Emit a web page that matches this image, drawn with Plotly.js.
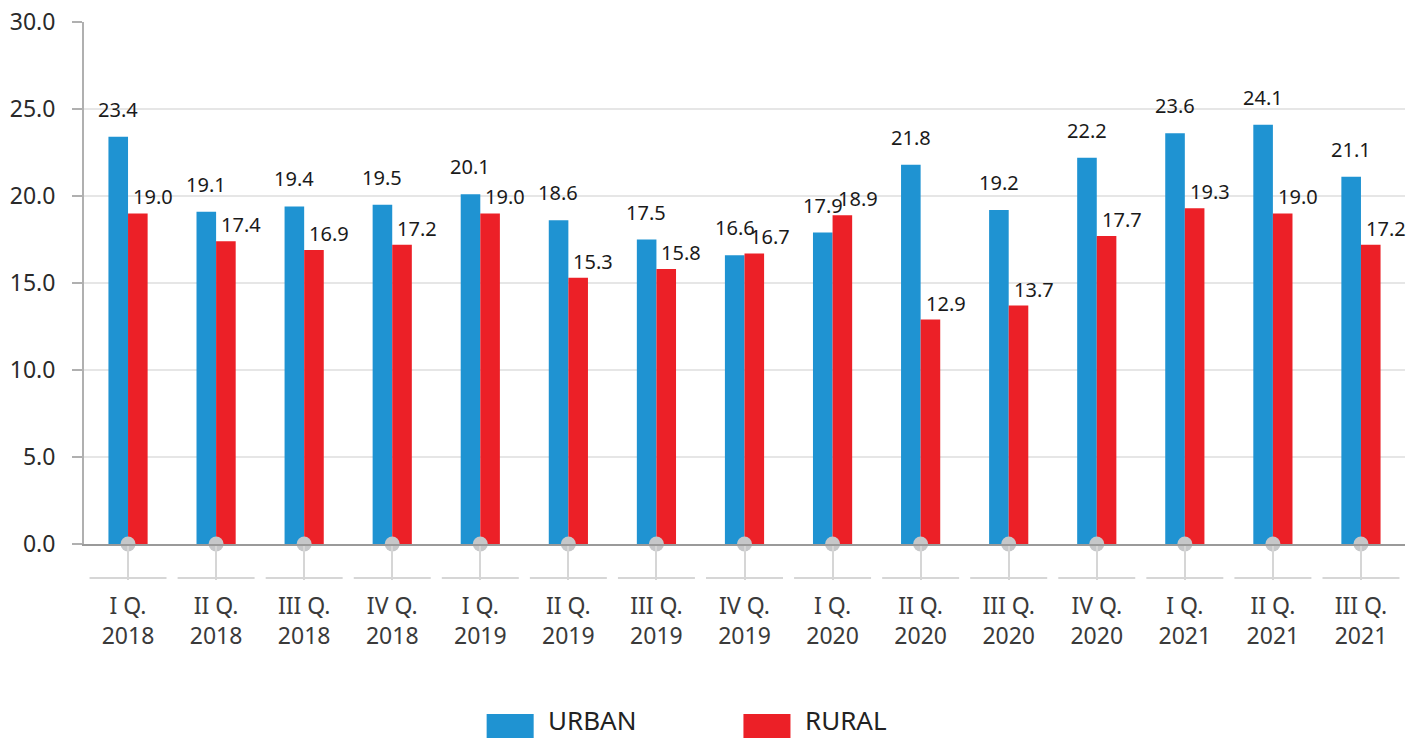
<!DOCTYPE html>
<html>
<head>
<meta charset="utf-8">
<script src="https://cdn.plot.ly/plotly-3.0.1.min.js"></script>
<style>
  html, body { margin: 0; padding: 0; background: #fff; }
  #chart { width: 1416px; height: 738px; }
</style>
</head>
<body>
<div id="chart"></div>
<script>
// quarters on the x axis
var quarters = ["I Q.<br>2018", "II Q.<br>2018", "III Q.<br>2018", "IV Q.<br>2018",
                "I Q.<br>2019", "II Q.<br>2019", "III Q.<br>2019", "IV Q.<br>2019",
                "I Q.<br>2020", "II Q.<br>2020", "III Q.<br>2020", "IV Q.<br>2020",
                "I Q.<br>2021", "II Q.<br>2021", "III Q.<br>2021"];

// values
var urban = [23.4, 19.1, 19.4, 19.5, 20.1, 18.6, 17.5, 16.6, 17.9, 21.8, 19.2, 22.2, 23.6, 24.1, 21.1];
var rural = [19.0, 17.4, 16.9, 17.2, 19.0, 15.3, 15.8, 16.7, 18.9, 12.9, 13.7, 17.7, 19.3, 19.0, 17.2];
var baseline = quarters.map(function() { return 0; });

var blue = "#1f93d2";
var red = "#ec2027";
var fontFam = "Noto Sans, Open Sans, sans-serif";

var traceUrban = {
  x: quarters, y: urban, type: "bar", name: "URBAN",
  marker: {color: blue}, hoverinfo: "skip"
};
var traceRural = {
  x: quarters, y: rural, type: "bar", name: "RURAL",
  marker: {color: red}, hoverinfo: "skip"
};
// grey dots sitting on the baseline
var traceDots = {
  x: quarters, y: baseline, type: "scatter", mode: "markers",
  marker: {color: "#c6c7c9", size: 15}, cliponaxis: false,
  hoverinfo: "skip", showlegend: false
};

// value labels above bars
var annotations = [];
for (var i = 0; i < quarters.length; i++) {
  annotations.push({
    x: quarters[i], y: urban[i], xref: "x", yref: "y",
    text: urban[i].toFixed(1), showarrow: false,
    yanchor: "bottom", xshift: -10, yshift: 12,
    font: {family: fontFam, size: 20, color: "#1a1a1a"}
  });
  annotations.push({
    x: quarters[i], y: rural[i], xref: "x", yref: "y",
    text: rural[i].toFixed(1), showarrow: false,
    yanchor: "bottom", xshift: 25, yshift: 1,
    font: {family: fontFam, size: 20, color: "#1a1a1a"}
  });
}

// short grey rules under each category
var shapes = [];
for (var j = 0; j < quarters.length; j++) {
  shapes.push({
    type: "line", xref: "x", yref: "paper",
    x0: j - 0.437, x1: j + 0.437, y0: -0.065, y1: -0.065,
    line: {color: "#d6d6d6", width: 2}
  });
}

// custom legend at the bottom
var legendItems = [
  {name: "URBAN", color: blue, x: 0.3048},
  {name: "RURAL", color: red, x: 0.4992}
];
legendItems.forEach(function(it) {
  shapes.push({
    type: "rect", xref: "paper", yref: "paper",
    x0: it.x, x1: it.x + 0.0356, y0: -0.3257, y1: -0.372,
    fillcolor: it.color, line: {width: 0}
  });
  annotations.push({
    x: it.x + 0.045, y: -0.338, xref: "paper", yref: "paper",
    text: it.name, showarrow: false, xanchor: "left", yanchor: "middle",
    font: {family: fontFam, size: 26, color: "#222"}
  });
});

var layout = {
  width: 1416, height: 738,
  margin: {l: 84, r: 11, t: 22, b: 194},
  paper_bgcolor: "#fff", plot_bgcolor: "#fff",
  barmode: "group", bargap: 0.555, bargroupgap: 0,
  showlegend: false,
  font: {family: fontFam},
  xaxis: {
    type: "category", range: [-0.5, 14.5],
    showline: true, linecolor: "#9a9a9a", linewidth: 2,
    ticks: "outside", ticklen: 34, tickwidth: 2, tickcolor: "#d6d6d6",
    tickfont: {family: fontFam, size: 23, color: "#3a3a3a"},
    ticklabelstandoff: 6,
    showgrid: false, fixedrange: true
  },
  yaxis: {
    range: [0, 30], dtick: 5, tickformat: ".1f",
    showline: true, linecolor: "#b0b0b0", linewidth: 2,
    ticks: "outside", ticklen: 10, tickwidth: 2, tickcolor: "#b0b0b0",
    tickfont: {family: fontFam, size: 23, color: "#2a2a2a"},
    ticklabelstandoff: 12,
    gridcolor: "#e6e6e6", gridwidth: 2,
    zeroline: false, fixedrange: true
  },
  shapes: shapes,
  annotations: annotations
};

Plotly.newPlot("chart", [traceUrban, traceRural, traceDots], layout, {displayModeBar: false, staticPlot: true});
</script>
</body>
</html>
